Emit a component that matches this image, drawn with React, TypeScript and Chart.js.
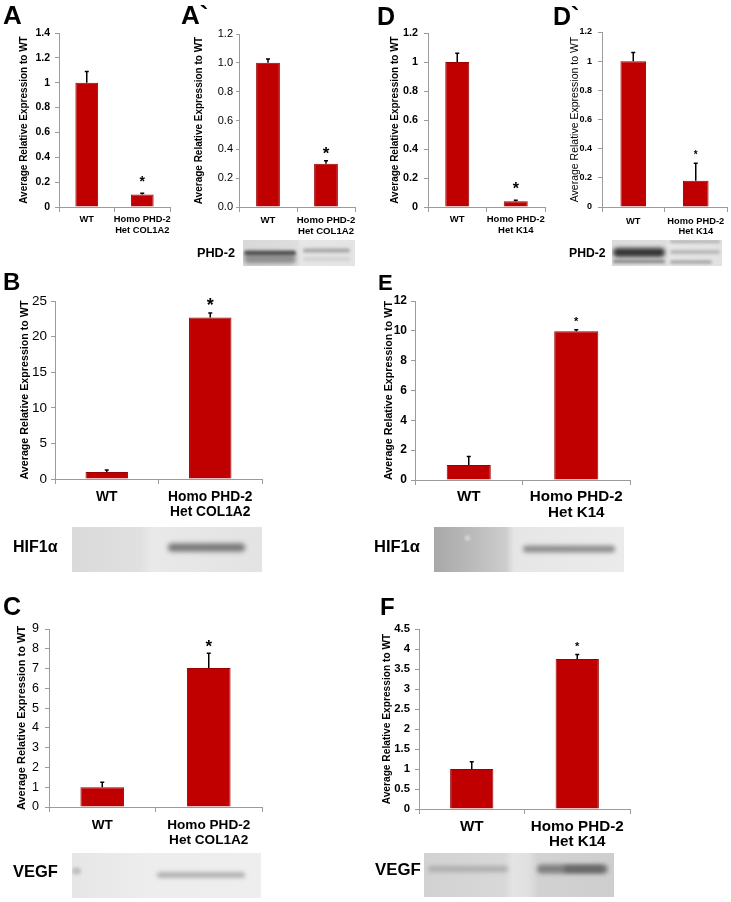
import React, { useEffect, useRef } from "react";
import { Chart, registerables } from "chart.js";
Chart.register(...registerables);

const FONT = 'Arial, "Liberation Sans", Helvetica, sans-serif';
Chart.defaults.font.family = FONT;
Chart.defaults.color = "#000";

// ---------- data ----------
const CATS_COL1A2 = ["WT", ["Homo PHD-2", "Het COL1A2"]];
const CATS_K14 = ["WT", ["Homo PHD-2", "Het K14"]];
const Y_TITLE = "Average Relative Expression to WT";

const A_VALUES = [1.0, 0.1];
const A_ERR = [1.09, 0.11];
const A_STAR = [null, 0.23];
const A_TICKS = ["0", "0.2", "0.4", "0.6", "0.8", "1", "1.2", "1.4"];

const A2_VALUES = [1.0, 0.3];
const A2_ERR = [1.027, 0.32];
const A2_STAR = [null, 0.4];
const A2_TICKS = ["0.0", "0.2", "0.4", "0.6", "0.8", "1.0", "1.2"];

const D_VALUES = [1.0, 0.04];
const D_ERR = [1.06, 0.046];
const D_STAR = [null, 0.15];
const D_TICKS = ["0", "0.2", "0.4", "0.6", "0.8", "1", "1.2"];

const D2_VALUES = [1.0, 0.18];
const D2_ERR = [1.06, 0.3];
const D2_STAR = [null, 0.375];
const D2_TICKS = ["0", "0.2", "0.4", "0.6", "0.8", "1", "1.2"];

const B_VALUES = [1.0, 22.7];
const B_ERR = [1.26, 23.3];
const B_STAR = [null, 25.1];
const B_TICKS = ["0", "5", "10", "15", "20", "25"];

const E_VALUES = [1.0, 9.97];
const E_ERR = [1.58, 10.07];
const E_STAR = [null, 10.8];
const E_TICKS = ["0", "2", "4", "6", "8", "10", "12"];

const C_VALUES = [1.0, 7.03];
const C_ERR = [1.25, 7.78];
const C_STAR = [null, 8.34];
const C_TICKS = ["0", "1", "2", "3", "4", "5", "6", "7", "8", "9"];

const F_VALUES = [1.0, 3.75];
const F_ERR = [1.18, 3.86];
const F_STAR = [null, 4.12];
const F_TICKS = ["0", "0.5", "1", "1.5", "2", "2.5", "3", "3.5", "4", "4.5"];

// ---------- styles ----------
const AXIS = "#9b9b9b";
const BAR = "#c00000";
const BAR_EDGE = "#9a0000";

type Cfg = {
  cats: any[]; values: number[]; err: number[]; star: (number | null)[]; ticks: string[];
  L: number; R: number; T: number; B: number;
  titleX: number; titleSize: number; titleBold: boolean;
  tickSize: number; tickBold: boolean; yTl: number; yPad: number;
  xSize: number; xLh: number; xPad: number; starSize: number;
};

const PANELS: Cfg[] = [
  { cats: CATS_COL1A2, values: A_VALUES, err: A_ERR, star: A_STAR, ticks: A_TICKS,
    L: 59, R: 170, T: 33, B: 207, titleX: 24, titleSize: 10, titleBold: true,
    tickSize: 10.5, tickBold: true, yTl: 4, yPad: 5, xSize: 9.3, xLh: 1.18, xPad: 1.5, starSize: 14 },
  { cats: CATS_COL1A2, values: A2_VALUES, err: A2_ERR, star: A2_STAR, ticks: A2_TICKS,
    L: 239, R: 355, T: 34, B: 207, titleX: 199, titleSize: 10, titleBold: true,
    tickSize: 11, tickBold: false, yTl: 3, yPad: 3, xSize: 9.6, xLh: 1.14, xPad: 2.5, starSize: 17 },
  { cats: CATS_K14, values: D_VALUES, err: D_ERR, star: D_STAR, ticks: D_TICKS,
    L: 428, R: 545, T: 33, B: 207, titleX: 395, titleSize: 10, titleBold: true,
    tickSize: 10.8, tickBold: true, yTl: 4, yPad: 6, xSize: 9.5, xLh: 1.18, xPad: 1.5, starSize: 16 },
  { cats: CATS_K14, values: D2_VALUES, err: D2_ERR, star: D2_STAR, ticks: D2_TICKS,
    L: 602, R: 727, T: 32, B: 207, titleX: 575, titleSize: 10.5, titleBold: false,
    tickSize: 9, tickBold: true, yTl: 4, yPad: 6, xSize: 9.3, xLh: 1.1, xPad: 4, starSize: 10 },
  { cats: CATS_COL1A2, values: B_VALUES, err: B_ERR, star: B_STAR, ticks: B_TICKS,
    L: 55, R: 262, T: 301, B: 479, titleX: 25, titleSize: 10.7, titleBold: true,
    tickSize: 13.5, tickBold: false, yTl: 4, yPad: 4, xSize: 13.8, xLh: 1.14, xPad: 5, starSize: 18 },
  { cats: CATS_K14, values: E_VALUES, err: E_ERR, star: E_STAR, ticks: E_TICKS,
    L: 415, R: 630, T: 301, B: 480, titleX: 389, titleSize: 10.7, titleBold: true,
    tickSize: 12, tickBold: true, yTl: 4, yPad: 4, xSize: 15.2, xLh: 1.05, xPad: 3.7, starSize: 11 },
  { cats: CATS_COL1A2, values: C_VALUES, err: C_ERR, star: C_STAR, ticks: C_TICKS,
    L: 49, R: 262, T: 629, B: 807, titleX: 22, titleSize: 11, titleBold: true,
    tickSize: 12.5, tickBold: false, yTl: 4, yPad: 6, xSize: 13.6, xLh: 1.1, xPad: 5.5, starSize: 17 },
  { cats: CATS_K14, values: F_VALUES, err: F_ERR, star: F_STAR, ticks: F_TICKS,
    L: 419, R: 630, T: 629, B: 809, titleX: 387, titleSize: 10.2, titleBold: true,
    tickSize: 11.3, tickBold: true, yTl: 4, yPad: 5, xSize: 15.2, xLh: 1.0, xPad: 5.4, starSize: 11 },
];

const errPlugin = {
  id: "errbars",
  afterDatasetsDraw(chart: any, _args: any, opts: any) {
    const { ctx } = chart;
    const y = chart.scales.y;
    const meta = chart.getDatasetMeta(0);
    const vals = chart.data.datasets[0].data;
    ctx.save();
    meta.data.forEach((bar: any, i: number) => {
      const cx = bar.x;
      const y0 = y.getPixelForValue(vals[i]);
      const y1 = y.getPixelForValue(opts.err[i]);
      ctx.strokeStyle = "#000";
      ctx.lineWidth = 1.5;
      ctx.beginPath();
      ctx.moveTo(cx, y0);
      ctx.lineTo(cx, y1);
      ctx.moveTo(cx - 2, y1);
      ctx.lineTo(cx + 2, y1);
      ctx.stroke();
      const s = opts.star[i];
      if (s != null) {
        ctx.fillStyle = "#000";
        ctx.font = `bold ${opts.starSize}px ${FONT}`;
        ctx.textAlign = "center";
        ctx.textBaseline = "alphabetic";
        ctx.fillText("*", cx, y.getPixelForValue(s) + 0.57 * opts.starSize);
      }
    });
    ctx.restore();
  },
};

function Panel({ cfg }: { cfg: Cfg }) {
  const ref = useRef<HTMLCanvasElement>(null);
  const padTop = 16;
  const xH = 56;
  const cl = Math.round(cfg.titleX - (cfg.titleSize * 1.2) / 2);
  const ct = cfg.T - padTop;
  const w = Math.ceil(cfg.R - cl) + 20;
  const padRight = w - (cfg.R - cl);
  const h = cfg.B - ct + xH;
  const yMax = Number(cfg.ticks[cfg.ticks.length - 1]);
  const step = Number(cfg.ticks[1]);

  useEffect(() => {
    const chart = new Chart(ref.current as HTMLCanvasElement, {
      type: "bar",
      data: {
        labels: cfg.cats,
        datasets: [{
          data: cfg.values, backgroundColor: BAR, borderColor: BAR_EDGE, borderWidth: 1,
          barPercentage: 0.41, categoryPercentage: 1,
        }],
      },
      plugins: [errPlugin],
      options: {
        responsive: false, maintainAspectRatio: false, animation: false,
        layout: { padding: { top: padTop, right: padRight, bottom: 0, left: 0 } },
        plugins: {
          legend: { display: false }, tooltip: { enabled: false },
          errbars: { err: cfg.err, star: cfg.star, starSize: cfg.starSize },
        } as any,
        scales: {
          x: {
            offset: true,
            grid: { offset: true, drawOnChartArea: false, tickLength: 5, color: AXIS },
            border: { color: AXIS },
            ticks: {
              color: "#000", maxRotation: 0, autoSkip: false, padding: cfg.xPad,
              font: { size: cfg.xSize, weight: "bold", lineHeight: cfg.xLh },
            },
            afterFit: (s: any) => { s.height = xH; },
          },
          y: {
            min: 0, max: yMax,
            grid: { drawOnChartArea: false, tickLength: cfg.yTl, color: AXIS },
            border: { color: AXIS },
            ticks: {
              stepSize: step, color: "#000", padding: cfg.yPad,
              font: { size: cfg.tickSize, weight: cfg.tickBold ? "bold" : "normal" },
              callback: (_v: any, i: number) => cfg.ticks[i],
            },
            title: {
              display: true, text: Y_TITLE, color: "#000", padding: 0,
              font: { size: cfg.titleSize, weight: cfg.titleBold ? "bold" : "normal", lineHeight: 1.2 },
            },
            afterFit: (s: any) => { s.width = cfg.L - cl; },
          },
        },
      } as any,
    });
    return () => chart.destroy();
  }, []);

  return (
    <canvas ref={ref} width={w} height={h}
      style={{ position: "absolute", left: cl, top: ct, width: w, height: h }} />
  );
}

// ---------- blot images (photographs, approximated) ----------
type Band = { x0: number; x1: number; y: number; h: number; c: string; blur: number };
type BlotSpec = { left: number; top: number; width: number; height: number; bg: [number, string][]; bands: Band[] };

const BLOTS: BlotSpec[] = [
  { left: 243, top: 240, width: 112, height: 26,
    bg: [[0, "#d8d8d8"], [0.48, "#dedede"], [0.52, "#e6e6e6"], [1, "#e4e4e4"]],
    bands: [
      { x0: 1, x1: 53, y: 19, h: 9, c: "#8e8e8e", blur: 2 },
      { x0: 1, x1: 53, y: 13, h: 5, c: "#505050", blur: 1.8 },
      { x0: 60, x1: 107, y: 10.5, h: 4, c: "#a6a6a6", blur: 1.6 },
      { x0: 60, x1: 107, y: 19, h: 3, c: "#cdcdcd", blur: 1.6 },
    ] },
  { left: 612, top: 240, width: 110, height: 26,
    bg: [[0, "#dcdcdc"], [0.48, "#dedede"], [0.52, "#e6e6e6"], [1, "#e2e2e2"]],
    bands: [
      { x0: 1, x1: 53, y: 21.5, h: 3, c: "#808080", blur: 1.6 },
      { x0: 1, x1: 53, y: 12.5, h: 9, c: "#333333", blur: 2 },
      { x0: 58, x1: 108, y: 1.5, h: 3, c: "#b0b0b0", blur: 1.4 },
      { x0: 58, x1: 108, y: 12, h: 4, c: "#b8b8b8", blur: 1.6 },
      { x0: 58, x1: 100, y: 22, h: 3, c: "#9e9e9e", blur: 1.4 },
    ] },
  { left: 72, top: 527, width: 190, height: 45,
    bg: [[0, "#dadada"], [0.36, "#e0e0e0"], [0.42, "#e9e9e9"], [1, "#e3e3e3"]],
    bands: [
      { x0: 96, x1: 173, y: 20.5, h: 8, c: "#747474", blur: 2.4 },
    ] },
  { left: 434, top: 527, width: 190, height: 45,
    bg: [[0, "#a8a8a8"], [0.2, "#bababa"], [0.38, "#cdcdcd"], [0.42, "#e6e6e6"], [1, "#ebebeb"]],
    bands: [
      { x0: 89, x1: 181, y: 22, h: 7, c: "#8f8f8f", blur: 2.2 },
      { x0: 31, x1: 36, y: 11, h: 5, c: "#dcdcdc", blur: 1.8 },
    ] },
  { left: 72, top: 853, width: 189, height: 45,
    bg: [[0, "#e6e6e6"], [0.4, "#ededed"], [1, "#eeeeee"]],
    bands: [
      { x0: 85, x1: 173, y: 22, h: 5, c: "#a8a8a8", blur: 2 },
      { x0: 0, x1: 9, y: 18, h: 7, c: "#c0c0c0", blur: 1.8 },
    ] },
  { left: 424, top: 853, width: 190, height: 44,
    bg: [[0, "#d2d2d2"], [0.42, "#d8d8d8"], [0.47, "#e4e4e4"], [0.55, "#e0e0e0"], [0.6, "#d2d2d2"], [1, "#cecece"]],
    bands: [
      { x0: 4, x1: 84, y: 16, h: 6, c: "#adadad", blur: 2 },
      { x0: 113, x1: 184, y: 16, h: 9, c: "#808080", blur: 2.2 },
      { x0: 140, x1: 180, y: 16, h: 6, c: "#666666", blur: 2.2 },
    ] },
];

function Blot({ spec }: { spec: BlotSpec }) {
  const ref = useRef<HTMLCanvasElement>(null);
  useEffect(() => {
    const c = ref.current as HTMLCanvasElement;
    const ctx = c.getContext("2d") as CanvasRenderingContext2D;
    const g = ctx.createLinearGradient(0, 0, spec.width, 0);
    spec.bg.forEach(([p, col]) => g.addColorStop(p, col));
    ctx.fillStyle = g;
    ctx.fillRect(0, 0, spec.width, spec.height);
    spec.bands.forEach((b) => {
      ctx.save();
      ctx.filter = `blur(${b.blur}px)`;
      ctx.fillStyle = b.c;
      ctx.beginPath();
      (ctx as any).roundRect(b.x0, b.y - b.h / 2, b.x1 - b.x0, b.h, b.h / 2);
      ctx.fill();
      ctx.restore();
    });
  }, []);
  return <canvas ref={ref} width={spec.width} height={spec.height}
    style={{ position: "absolute", left: spec.left, top: spec.top }} />;
}

// ---------- text ----------
const LETTERS = [
  { t: "A", x: 3, cap: 5, s: 26 },
  { t: "A`", x: 181, cap: 5, s: 26 },
  { t: "D", x: 377, cap: 7, s: 25 },
  { t: "D`", x: 553, cap: 7, s: 25 },
  { t: "B", x: 3, cap: 273, s: 24 },
  { t: "E", x: 378, cap: 275, s: 22 },
  { t: "C", x: 3, cap: 597, s: 25 },
  { t: "F", x: 380, cap: 598, s: 24 },
];

const BLOT_LABELS = [
  { t: "PHD-2", x: 197, cy: 253, s: 12.7 },
  { t: "PHD-2", x: 569, cy: 253, s: 12.2 },
  { t: "HIF1α", x: 13, cy: 547, s: 16 },
  { t: "HIF1α", x: 374, cy: 546, s: 16.5 },
  { t: "VEGF", x: 13, cy: 871, s: 16.5 },
  { t: "VEGF", x: 375, cy: 870, s: 16.8 },
];

export default function App() {
  return (
    <div style={{ position: "absolute", left: 0, top: 0, width: 731, height: 902, overflow: "hidden", background: "#fff", fontFamily: FONT }}>
      {PANELS.map((p, i) => <Panel key={i} cfg={p} />)}
      {BLOTS.map((b, i) => <Blot key={i} spec={b} />)}
      {LETTERS.map((l, i) => (
        <div key={i} style={{ position: "absolute", left: l.x, top: l.cap - 0.13 * l.s, fontSize: l.s, lineHeight: `${l.s}px`, fontWeight: "bold", whiteSpace: "nowrap", color: "#000" }}>{l.t}</div>
      ))}
      {BLOT_LABELS.map((l, i) => (
        <div key={i} style={{ position: "absolute", left: l.x, top: l.cy - 0.4885 * l.s, fontSize: l.s, lineHeight: `${l.s}px`, fontWeight: "bold", whiteSpace: "nowrap", color: "#000" }}>{l.t}</div>
      ))}
    </div>
  );
}
